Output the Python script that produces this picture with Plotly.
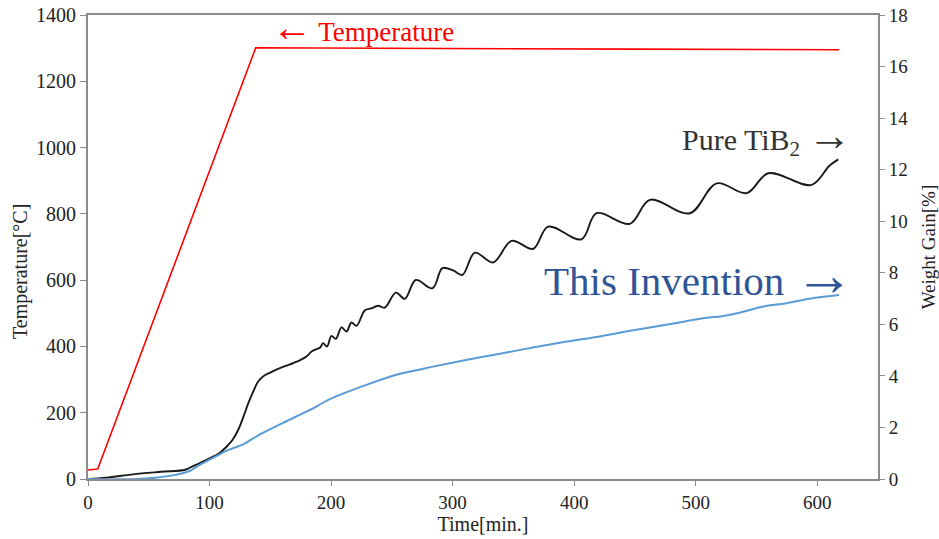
import plotly.graph_objects as go

# Temperature profile (left axis)
temp_time = [0, 8, 138, 300, 450, 618]
temp_val = [27, 30, 1301, 1298, 1297, 1295]

# Pure TiB2 weight gain (right axis)
tib2_time = [0, 15, 37, 60, 80, 86, 92, 100, 108, 114, 119, 124, 128, 132, 136, 140, 144, 150, 155, 162, 169, 175, 180,
             184, 188, 191, 193.4, 196.7, 200.3, 203.9, 208.6, 212.7, 216.8, 220.9, 227.7, 233, 238.7, 244.2,
             253.3, 260.7, 269.7, 283.4, 291.6, 300.4, 308.1, 318.3, 333.3, 348.5, 366.3, 378.6, 406,
             418.4, 445.8, 462.3, 495.2, 517.2, 541.9, 559.7, 595.4, 610, 617.3]
tib2_val = [0, 0.05, 0.18, 0.28, 0.36, 0.49, 0.62, 0.8, 1.0, 1.25, 1.52, 1.95, 2.43, 2.95, 3.4, 3.78, 3.98, 4.13, 4.24, 4.38, 4.5, 4.62, 4.76,
            4.95, 5.04, 5.1, 5.27, 5.14, 5.55, 5.44, 5.88, 5.72, 6.07, 5.94, 6.54, 6.62, 6.72, 6.65,
            7.23, 6.99, 7.72, 7.40, 8.18, 8.09, 7.92, 8.78, 8.40, 9.24, 8.93, 9.79, 9.30,
            10.31, 9.90, 10.83, 10.31, 11.47, 11.09, 11.86, 11.41, 12.15, 12.40]

# This Invention weight gain (right axis)
inv_time = [0, 40, 55, 70, 83, 92, 100, 108, 114, 128, 141, 160, 183, 199, 229, 256, 284, 311, 339, 366, 394,
            421, 446, 484, 506, 520, 534, 556, 575, 597, 618]
inv_val = [0, 0.0, 0.05, 0.14, 0.3, 0.55, 0.75, 0.95, 1.1, 1.35, 1.72, 2.17, 2.69, 3.1, 3.65, 4.07, 4.36, 4.62, 4.86, 5.1, 5.33,
           5.53, 5.75, 6.05, 6.24, 6.3, 6.43, 6.69, 6.82, 7.02, 7.14]

x_ticks = [0, 100, 200, 300, 400, 500, 600]
temp_ticks = [0, 200, 400, 600, 800, 1000, 1200, 1400]
wg_ticks = [0, 2, 4, 6, 8, 10, 12, 14, 16, 18]

FONT = "Liberation Serif, Times New Roman, serif"
AXC = "#8c8c8c"

fig = go.Figure()
fig.add_trace(go.Scatter(x=temp_time, y=temp_val, mode="lines",
                         line=dict(color="#ff0000", width=1.6), yaxis="y", name="Temperature"))
fig.add_trace(go.Scatter(x=tib2_time, y=tib2_val, mode="lines",
                         line=dict(color="#1a1a1a", width=1.9, shape="spline", smoothing=1.0),
                         yaxis="y2", name="Pure TiB2"))
fig.add_trace(go.Scatter(x=inv_time, y=inv_val, mode="lines",
                         line=dict(color="#5b9bd5", width=2, shape="spline", smoothing=0.8),
                         yaxis="y2", name="This Invention"))

fig.update_layout(
    width=939, height=539,
    margin=dict(l=88, r=61, t=15, b=60, autoexpand=False),
    paper_bgcolor="white", plot_bgcolor="white",
    showlegend=False,
    font=dict(family=FONT, color="#222222", size=19),
    xaxis=dict(range=[0, 650], tickvals=x_ticks, ticks="outside", ticklen=5, tickcolor=AXC,
               showline=True, linecolor=AXC, linewidth=2, mirror=True, showgrid=False, zeroline=False,
               automargin=False,
               title=dict(text="Time[min.]", font=dict(size=20), standoff=2),
               tickfont=dict(size=19)),
    yaxis=dict(range=[0, 1400], tickvals=temp_ticks, ticks="outside", ticklen=6, tickcolor=AXC,
               showline=True, linecolor=AXC, linewidth=2, showgrid=False, zeroline=False,
               automargin=False,
               tickfont=dict(size=20)),
    yaxis2=dict(range=[0, 18], tickvals=wg_ticks, ticks="outside", ticklen=5, tickcolor=AXC,
                overlaying="y", side="right",
                showline=True, linecolor=AXC, linewidth=2, showgrid=False, zeroline=False,
                automargin=False,
                title=dict(text="Weight Gain[%]", font=dict(size=19), standoff=16),
                tickfont=dict(size=19)),
)

# left axis title (placed like the reference, slightly below the middle)
fig.add_annotation(x=0, y=0.446, xref="paper", yref="paper", xshift=-68, text="Temperature[°C]",
                   textangle=-90, showarrow=False, font=dict(size=20, color="#222222", family=FONT),
                   xanchor="center", yanchor="middle")

fig.add_annotation(x=226, y=1362, xref="x", yref="y",
                   text="<span style='font-size:40px'>←</span> Temperature", showarrow=False,
                   font=dict(size=27, color="#ff0000", family=FONT), xanchor="center", yanchor="middle")
fig.add_annotation(x=630, y=13.3, xref="x", yref="y2",
                   text="Pure TiB<sub>2</sub> <span style='font-size:44px'>→</span>", showarrow=False,
                   font=dict(size=30, color="#333333", family=FONT), xanchor="right", yanchor="middle")
fig.add_annotation(x=633, y=7.9, xref="x", yref="y2",
                   text="This Invention <span style='font-size:60px'>→</span>", showarrow=False,
                   font=dict(size=41, color="#2f5597", family=FONT), xanchor="right", yanchor="middle")

fig.write_html("out.html", config={"displayModeBar": False},
               post_script="document.body.style.margin='0';document.body.style.padding='0';")
